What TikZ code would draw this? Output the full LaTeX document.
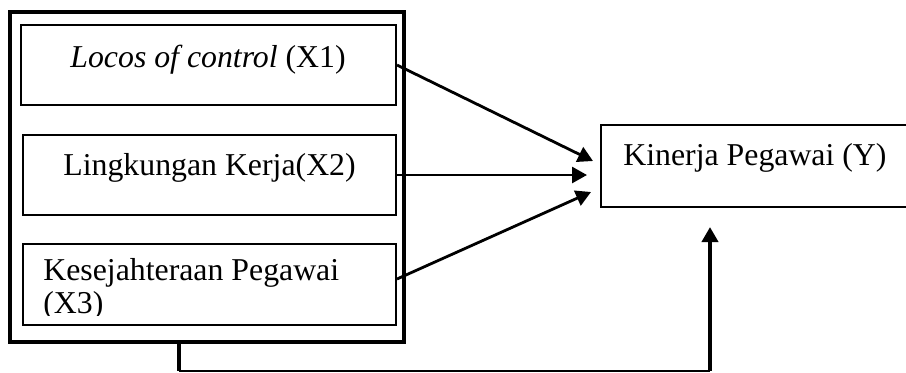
\documentclass[tikz,border=0pt]{standalone}
\usepackage{fontspec}
\setmainfont{Liberation Serif}
\usetikzlibrary{arrows.meta}
\begin{document}
\begin{tikzpicture}[x=0.5pt,y=-0.5pt,
  box/.style={draw,line width=1pt,inner sep=0pt,rectangle},
  lbl/.style={inner sep=0pt,anchor=base west,font=\fontsize{15.9}{16.5}\selectfont},
  arr/.style={line width=1.4pt,-{Triangle[length=7.5pt,width=8pt]}}]
\useasboundingbox (0,0) rectangle (906,372);
\clip (0,0) rectangle (906,372);
% outer frame
\node[box,line width=2pt,minimum width=197pt,minimum height=165pt] (outer) at (207,177) {};
% inner boxes
\node[box,minimum width=187.5pt,minimum height=40pt] (b1) at (208.5,65) {};
\node[box,minimum width=186.5pt,minimum height=40pt] (b2) at (209.5,175) {};
\node[box,minimum width=186.5pt,minimum height=40.5pt] (b3) at (209.5,284.5) {};
% dependent variable
\node[box,minimum width=154.5pt,minimum height=41pt] (Y) at (755.5,166) {};
% labels
\node[lbl] (l1) at (70,67) {\textit{Locos of control} (X1)};
\node[lbl] (l2) at (63,175) {Lingkungan Kerja(X2)};
\begin{scope}
\clip (23,244) rectangle (396,315);
\node[lbl] (l3a) at (43,280) {Kesejahteraan Pegawai};
\node[lbl] (l3b) at (43,313) {(X3)};
\end{scope}
\node[lbl] (ly) at (623,165) {Kinerja Pegawai (Y)};
% arrow ends
\coordinate (t1) at (593,161);
\coordinate (t2) at (587,175);
\coordinate (t3) at (591,192);
\coordinate (t4) at (710,227);
\coordinate (c1) at (179,342);
\coordinate (c2) at (179,371);
\coordinate (c3) at (710,371);
% arrows
\draw[arr] (b1.east) -- (t1);
\draw[arr] (b2.east) -- (t2);
\draw[arr] ([yshift=2.75pt]b3.east) -- (t3);
\draw[line width=2pt] (c1) -- (c2);
\draw[line width=0.8pt] (c2) -- (c3);
\draw[arr,line width=2pt] (c3) -- (t4);
\end{tikzpicture}
\end{document}
